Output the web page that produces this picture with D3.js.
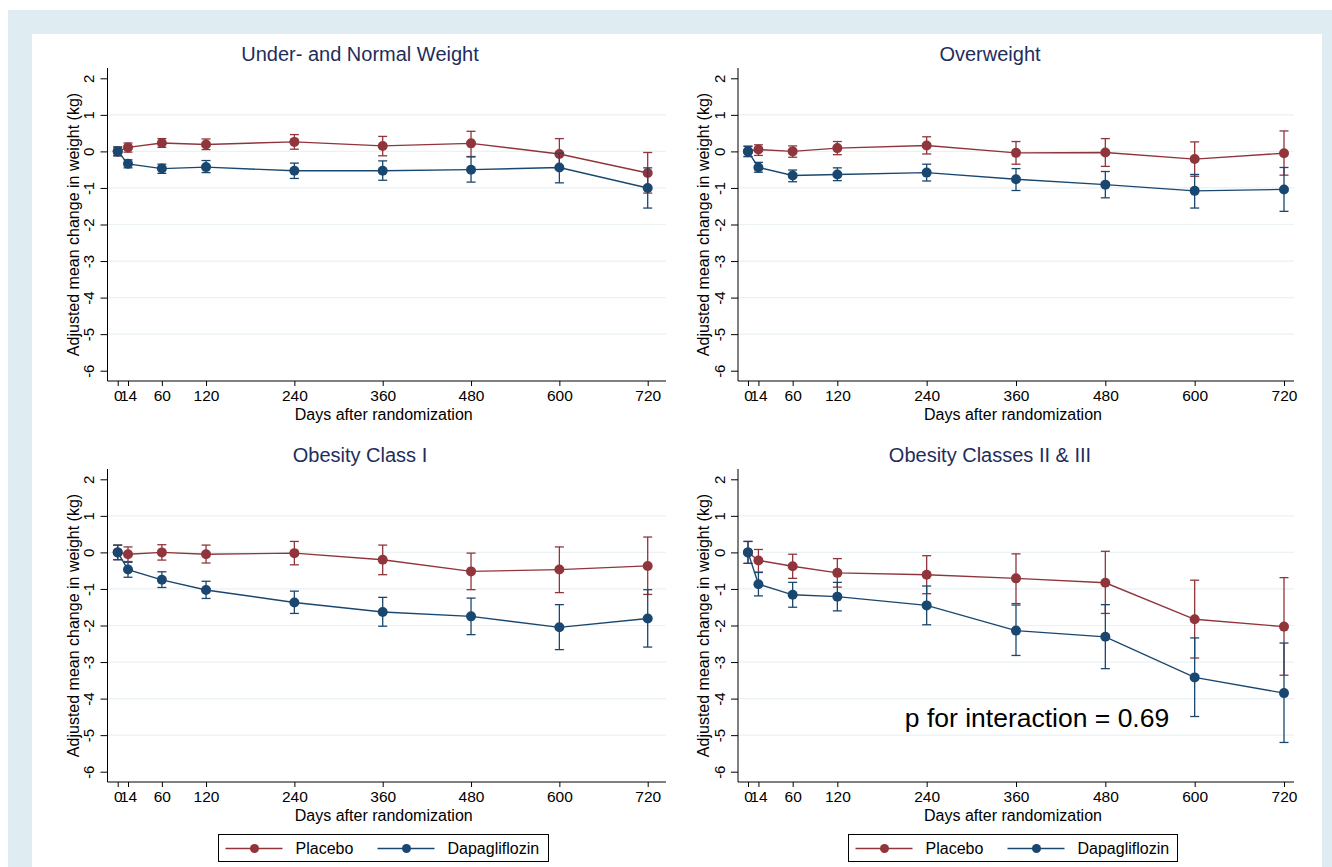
<!DOCTYPE html>
<html><head><meta charset="utf-8">
<script src="https://cdn.jsdelivr.net/npm/d3@7"></script>
<style>body{margin:0;padding:0;background:#fff}svg{display:block}text{font-family:"Liberation Sans",Arial,sans-serif}</style>
</head><body><svg id="chart" width="1332" height="867"></svg>
<script>
const days = [0, 14, 60, 120, 240, 360, 480, 600, 720];
const xTicks = [0, 14, 60, 120, 240, 360, 480, 600, 720];
const yTicks = [2, 1, 0, -1, -2, -3, -4, -5, -6];
const panelTitles = ["Under- and Normal Weight", "Overweight", "Obesity Class I", "Obesity Classes II & III"];
const seriesNames = ["Placebo", "Dapagliflozin"];

// Under- and Normal Weight
const p1Placebo = [0, 0.11, 0.23, 0.19, 0.26, 0.15, 0.22, -0.07, -0.59];
const p1PlaceboHi = [0.12, 0.23, 0.35, 0.34, 0.46, 0.41, 0.55, 0.35, -0.03];
const p1PlaceboLo = [-0.12, -0.02, 0.11, 0.05, 0.06, -0.12, -0.14, -0.49, -1.14];
const p1Dapa = [0, -0.34, -0.47, -0.43, -0.53, -0.53, -0.50, -0.44, -1.00];
const p1DapaHi = [0.12, -0.23, -0.35, -0.25, -0.32, -0.26, -0.15, -0.05, -0.45];
const p1DapaLo = [-0.12, -0.45, -0.60, -0.58, -0.74, -0.79, -0.84, -0.86, -1.55];
// Overweight
const p2Placebo = [0, 0.05, 0.00, 0.09, 0.16, -0.04, -0.03, -0.21, -0.05];
const p2PlaceboHi = [0.14, 0.18, 0.15, 0.27, 0.40, 0.27, 0.35, 0.26, 0.56];
const p2PlaceboLo = [-0.14, -0.11, -0.16, -0.09, -0.07, -0.35, -0.41, -0.68, -0.65];
const p2Dapa = [0, -0.44, -0.66, -0.63, -0.58, -0.76, -0.91, -1.08, -1.04];
const p2DapaHi = [0.14, -0.30, -0.51, -0.45, -0.35, -0.47, -0.55, -0.63, -0.44];
const p2DapaLo = [-0.14, -0.57, -0.83, -0.80, -0.81, -1.07, -1.27, -1.55, -1.64];
// Obesity Class I
const p3Placebo = [0, -0.05, 0.00, -0.05, -0.02, -0.20, -0.52, -0.47, -0.37];
const p3PlaceboHi = [0.20, 0.15, 0.21, 0.20, 0.30, 0.20, -0.02, 0.15, 0.42];
const p3PlaceboLo = [-0.20, -0.25, -0.21, -0.29, -0.34, -0.61, -1.02, -1.10, -1.15];
const p3Dapa = [0, -0.47, -0.75, -1.03, -1.37, -1.63, -1.75, -2.05, -1.81];
const p3DapaHi = [0.20, -0.27, -0.53, -0.79, -1.06, -1.23, -1.25, -1.43, -1.02];
const p3DapaLo = [-0.20, -0.68, -0.96, -1.26, -1.67, -2.02, -2.25, -2.66, -2.59];
// Obesity Classes II & III
const p4Placebo = [0, -0.22, -0.38, -0.56, -0.61, -0.71, -0.83, -1.83, -2.03];
const p4PlaceboHi = [0.30, 0.08, -0.05, -0.17, -0.09, -0.04, 0.03, -0.76, -0.69];
const p4PlaceboLo = [-0.30, -0.54, -0.71, -0.95, -1.13, -1.40, -1.67, -2.89, -3.36];
const p4Dapa = [0, -0.87, -1.16, -1.21, -1.45, -2.14, -2.31, -3.42, -3.85];
const p4DapaHi = [0.30, -0.55, -0.82, -0.82, -0.92, -1.44, -1.43, -2.34, -2.48];
const p4DapaLo = [-0.30, -1.19, -1.50, -1.60, -1.98, -2.82, -3.18, -4.49, -5.20];

const annotation = "p for interaction = 0.69";

const colors = {Placebo: "#90353b", Dapagliflozin: "#1a476f"};

const panels = [
  {title: panelTitles[0], series: [[p1Placebo, p1PlaceboHi, p1PlaceboLo], [p1Dapa, p1DapaHi, p1DapaLo]]},
  {title: panelTitles[1], series: [[p2Placebo, p2PlaceboHi, p2PlaceboLo], [p2Dapa, p2DapaHi, p2DapaLo]]},
  {title: panelTitles[2], series: [[p3Placebo, p3PlaceboHi, p3PlaceboLo], [p3Dapa, p3DapaHi, p3DapaLo]]},
  {title: panelTitles[3], series: [[p4Placebo, p4PlaceboHi, p4PlaceboLo], [p4Dapa, p4DapaHi, p4DapaLo]]}
];

const svg = d3.select("#chart");
svg.append("rect").attr("x", 0).attr("y", 0).attr("width", 1332).attr("height", 867).attr("fill", "#fff");
svg.append("rect").attr("x", 8).attr("y", 10).attr("width", 1324).attr("height", 857).attr("fill", "#dfedf2");
svg.append("rect").attr("x", 32).attr("y", 34).attr("width", 1290).attr("height", 833).attr("fill", "#fff");

const cols = [
  {axisX: 107.5, x0: 117.7, x1: 647.7, xEnd: 666, center: 360},
  {axisX: 738, x0: 748, x1: 1284, xEnd: 1294, center: 990}
];
const rows = [
  {yTop: 68, y2: 78.3, yN6: 370.7, axisY: 381, titleY: 61},
  {yTop: 469, y2: 479.3, yN6: 771.7, axisY: 782, titleY: 462}
];

panels.forEach((p, i) => {
  const c = cols[i % 2], r = rows[Math.floor(i / 2)];
  const x = d3.scaleLinear().domain([0, 720]).range([c.x0, c.x1]);
  const y = d3.scaleLinear().domain([-6, 2]).range([r.yN6, r.y2]);
  const g = svg.append("g");

  // gridlines
  g.selectAll("line.grid").data(yTicks.filter(t => t < 2 && t > -6)).enter().append("line")
    .attr("x1", c.axisX).attr("x2", c.xEnd).attr("y1", d => y(d)).attr("y2", d => y(d))
    .attr("stroke", "#eaf2f3").attr("stroke-width", 1.2);

  // y axis
  const ya = g.append("g").attr("transform", `translate(${c.axisX},0)`)
    .call(d3.axisLeft(y).tickValues(yTicks).tickSize(7).tickSizeOuter(0).tickFormat(d => String(d)));
  ya.select(".domain").attr("d", `M0,${r.yTop}V${r.axisY}`).attr("stroke", "#000");
  ya.selectAll(".tick line").attr("stroke", "#000");
  ya.selectAll(".tick text").attr("transform", "rotate(-90)").attr("x", 0).attr("y", -18.5)
    .attr("dy", "0.35em").attr("text-anchor", "middle").attr("font-size", 15).attr("fill", "#000")
    .style("font-family", "Liberation Sans, Arial, sans-serif");

  // x axis
  const xa = g.append("g").attr("transform", `translate(0,${r.axisY})`)
    .call(d3.axisBottom(x).tickValues(xTicks).tickSize(5).tickSizeOuter(0).tickFormat(d => String(d)));
  xa.select(".domain").attr("d", `M${c.axisX},0H${c.xEnd}`).attr("stroke", "#000");
  xa.selectAll(".tick line").attr("stroke", "#000");
  xa.selectAll(".tick text").attr("y", 9).attr("dy", "0.71em").attr("font-size", 15.5).attr("fill", "#000")
    .style("font-family", "Liberation Sans, Arial, sans-serif");

  // axis titles
  g.append("text").attr("transform", `translate(${c.axisX - 34.5},${(r.y2 + r.yN6) / 2}) rotate(-90)`)
    .attr("text-anchor", "middle").attr("dy", "0.35em").attr("font-size", 16).attr("fill", "#000")
    .text("Adjusted mean change in weight (kg)");
  g.append("text").attr("x", (c.axisX + c.xEnd) / 2 - 3).attr("y", r.axisY + 38.5)
    .attr("text-anchor", "middle").attr("font-size", 16).attr("fill", "#000")
    .text("Days after randomization");

  // title
  g.append("text").attr("x", c.center).attr("y", r.titleY).attr("text-anchor", "middle")
    .attr("font-size", 20).attr("fill", "#1e2d5c").text(p.title);

  // series
  p.series.forEach((s, si) => {
    const col = colors[seriesNames[si]];
    const pts = days.map((d, k) => ({d, v: s[0][k], hi: s[1][k], lo: s[2][k]}));
    const sg = g.append("g");
    sg.selectAll("line.err").data(pts).enter().append("line")
      .attr("x1", d => x(d.d)).attr("x2", d => x(d.d)).attr("y1", d => y(d.hi)).attr("y2", d => y(d.lo))
      .attr("stroke", col).attr("stroke-width", 1.3);
    ["hi", "lo"].forEach(k => {
      sg.selectAll("line.cap" + k).data(pts).enter().append("line")
        .attr("x1", d => x(d.d) - 4.5).attr("x2", d => x(d.d) + 4.5).attr("y1", d => y(d[k])).attr("y2", d => y(d[k]))
        .attr("stroke", col).attr("stroke-width", 1.3);
    });
    sg.append("path").datum(pts)
      .attr("d", d3.line().x(d => x(d.d)).y(d => y(d.v)))
      .attr("fill", "none").attr("stroke", col).attr("stroke-width", 1.4);
    sg.selectAll("circle").data(pts).enter().append("circle")
      .attr("cx", d => x(d.d)).attr("cy", d => y(d.v)).attr("r", 5).attr("fill", col);
  });

  if (i === 3) {
    g.append("text").attr("x", 1037).attr("y", 727).attr("text-anchor", "middle")
      .attr("font-size", 26.5).attr("fill", "#000").text(annotation);
  }
});

// legends
[{x: 218.5, w: 330}, {x: 848.5, w: 329}].forEach(L => {
  const lg = svg.append("g").attr("transform", `translate(${L.x},834.5)`);
  lg.append("rect").attr("width", L.w).attr("height", 27).attr("fill", "#fff").attr("stroke", "#000").attr("stroke-width", 1);
  const items = [{name: seriesNames[0], lx: 7, tx: 77}, {name: seriesNames[1], lx: 159, tx: 229}];
  items.forEach(it => {
    const col = colors[it.name];
    lg.append("line").attr("x1", it.lx).attr("x2", it.lx + 57).attr("y1", 14).attr("y2", 14)
      .attr("stroke", col).attr("stroke-width", 1.4);
    lg.append("circle").attr("cx", it.lx + 29).attr("cy", 14).attr("r", 4.5).attr("fill", col);
    lg.append("text").attr("x", it.tx).attr("y", 14).attr("dy", "0.35em").attr("font-size", 16)
      .attr("fill", "#000").text(it.name);
  });
});
</script></body></html>
